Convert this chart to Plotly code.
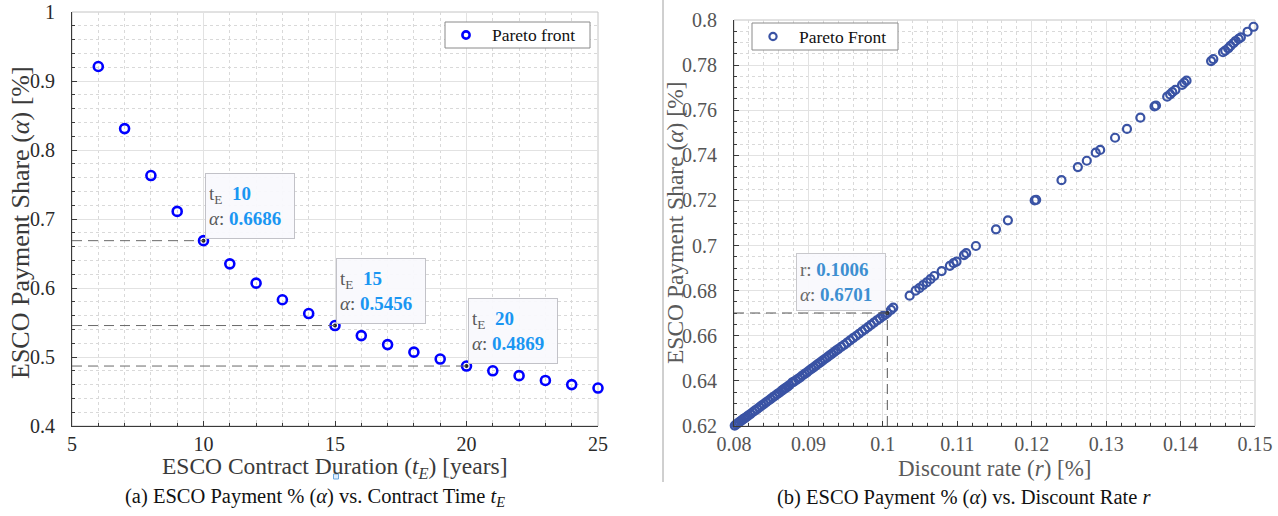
import plotly.graph_objects as go

# ---------------- data ----------------
# (a) contract duration vs payment share
t_years = [6, 7, 8, 9, 10, 11, 12, 13, 14, 15, 16, 17, 18, 19, 20, 21, 22, 23, 24, 25]
alpha_t = [0.921, 0.831, 0.763, 0.711, 0.6686, 0.635, 0.607, 0.583, 0.563, 0.5456,
           0.531, 0.518, 0.507, 0.497, 0.4869, 0.480, 0.473, 0.466, 0.460, 0.455]
hl_t = [10, 15, 20]
hl_alpha_t = [0.6686, 0.5456, 0.4869]

# (b) discount rate vs payment share
r_rate = [0.0801, 0.0803, 0.0805, 0.0807, 0.0809, 0.0811, 0.0813, 0.0815, 0.0817, 0.0819,
          0.0822, 0.0825, 0.0828, 0.0831, 0.0834, 0.0837, 0.0840, 0.0843, 0.0846, 0.0849,
          0.0852, 0.0855, 0.0858, 0.0861, 0.0864, 0.0866, 0.0868, 0.0870, 0.0872, 0.0874,
          0.0878, 0.0880, 0.0883, 0.0886, 0.0889, 0.0892, 0.0895, 0.0898, 0.0901, 0.0904,
          0.0907, 0.0910, 0.0913, 0.0916, 0.0919, 0.0922, 0.0925, 0.0928, 0.0931, 0.0934,
          0.0937, 0.0940, 0.0944, 0.0948, 0.0952, 0.0956, 0.0960, 0.0964, 0.0968, 0.0972,
          0.0976, 0.0980, 0.0984, 0.0988, 0.0992, 0.0996, 0.1000, 0.1003, 0.1006, 0.1011,
          0.1014, 0.1036, 0.1044, 0.1049, 0.1054, 0.1059, 0.1064, 0.1069, 0.1079, 0.1090,
          0.1095, 0.1099, 0.1109, 0.1112, 0.1125, 0.1152, 0.1168, 0.1204, 0.1206, 0.1240,
          0.1262, 0.1274, 0.1286, 0.1292, 0.1312, 0.1328, 0.1346, 0.1365, 0.1367, 0.1382,
          0.1386, 0.1389, 0.1393, 0.1402, 0.1405, 0.1408, 0.1441, 0.1444, 0.1457, 0.1460,
          0.1464, 0.1467, 0.1471, 0.1474, 0.1478, 0.1481, 0.1490, 0.1498]
alpha_r = [0.6202, 0.6207, 0.6212, 0.6217, 0.6222, 0.6227, 0.6232, 0.6236, 0.6241, 0.6246,
           0.6253, 0.6261, 0.6268, 0.6275, 0.6283, 0.6290, 0.6297, 0.6305, 0.6312, 0.6319,
           0.6327, 0.6334, 0.6341, 0.6348, 0.6356, 0.6361, 0.6366, 0.6370, 0.6375, 0.6380,
           0.6392, 0.6396, 0.6402, 0.6409, 0.6416, 0.6424, 0.6431, 0.6438, 0.6446, 0.6453,
           0.6460, 0.6468, 0.6475, 0.6482, 0.6490, 0.6497, 0.6504, 0.6512, 0.6519, 0.6526,
           0.6534, 0.6541, 0.6551, 0.6560, 0.6570, 0.6580, 0.6590, 0.6599, 0.6609, 0.6619,
           0.6628, 0.6638, 0.6648, 0.6658, 0.6668, 0.6677, 0.6687, 0.6694, 0.6701, 0.6715,
           0.6725, 0.6778, 0.6800, 0.6811, 0.6825, 0.6837, 0.6851, 0.6865, 0.6887, 0.6910,
           0.6922, 0.6929, 0.6958, 0.6966, 0.6998, 0.7072, 0.7112, 0.7200, 0.7203, 0.7290,
           0.7348, 0.7376, 0.7412, 0.7424, 0.7478, 0.7517, 0.7567, 0.7617, 0.7621, 0.7660,
           0.7670, 0.7680, 0.7690, 0.7712, 0.7722, 0.7731, 0.7818, 0.7827, 0.7857, 0.7864,
           0.7874, 0.7885, 0.7897, 0.7907, 0.7916, 0.7923, 0.7948, 0.7970]
hl_r = [0.1006]
hl_alpha_r = [0.6701]

x1_ticks = [5, 10, 15, 20, 25]
y1_ticks = [0.4, 0.5, 0.6, 0.7, 0.8, 0.9, 1.0]
x2_ticks = [0.08, 0.09, 0.10, 0.11, 0.12, 0.13, 0.14, 0.15]
y2_ticks = [0.62, 0.64, 0.66, 0.68, 0.70, 0.72, 0.74, 0.76, 0.78, 0.80]

legend_a = "Pareto front"
legend_b = "Pareto Front"

# ---------------- styles ----------------
W, H = 1278, 516
SERIF = "Liberation Serif"
BLUE = "#0000ff"
NAVY = "#3a53a4"
TIP_BLUE_A = "#1a96f2"
TIP_BLUE_B = "#3d8fd1"


def px(x):
    return x / W


def py(y):
    return 1 - y / H


fig = go.Figure()

fig.add_trace(go.Scatter(
    x=t_years, y=alpha_t, mode="markers", name=legend_a, showlegend=False,
    marker=dict(symbol="circle-open", size=9, color=BLUE, line=dict(width=2.6, color=BLUE)),
    cliponaxis=False, xaxis="x", yaxis="y", hoverinfo="x+y"))
fig.add_trace(go.Scatter(
    x=hl_t, y=hl_alpha_t, mode="markers", showlegend=False,
    marker=dict(symbol="circle", size=4, color="#222"), xaxis="x", yaxis="y",
    cliponaxis=False, hoverinfo="skip"))

fig.add_trace(go.Scatter(
    x=r_rate, y=alpha_r, mode="markers", name=legend_b, showlegend=False,
    marker=dict(symbol="circle-open", size=8, color=NAVY, line=dict(width=2.2, color=NAVY)),
    cliponaxis=False, xaxis="x2", yaxis="y2", hoverinfo="x+y"))
fig.add_trace(go.Scatter(
    x=hl_r, y=hl_alpha_r, mode="markers", showlegend=False,
    marker=dict(symbol="circle", size=4, color="#333"), xaxis="x2", yaxis="y2",
    cliponaxis=False, hoverinfo="skip"))

shapes = []
annotations = []

# dashed guide lines (a)
for t, a in zip(hl_t, hl_alpha_t):
    shapes.append(dict(type="line", xref="x", yref="y", x0=x1_ticks[0], x1=t, y0=a, y1=a,
                       line=dict(color="#6a6a6a", width=1, dash="10px,6px"), layer="above"))
# dashed guide lines (b)
for r, a in zip(hl_r, hl_alpha_r):
    shapes.append(dict(type="line", xref="x2", yref="y2", x0=x2_ticks[0], x1=r, y0=a, y1=a,
                       line=dict(color="#555", width=1, dash="10px,6px"), layer="above"))
    shapes.append(dict(type="line", xref="x2", yref="y2", x0=r, x1=r, y0=y2_ticks[0], y1=a,
                       line=dict(color="#555", width=1, dash="10px,6px"), layer="above"))

# light box on top/right of each axes
for xr, yr in (("x domain", "y domain"), ("x2 domain", "y2 domain")):
    shapes.append(dict(type="rect", xref=xr, yref=yr, x0=0, x1=1, y0=0, y1=1,
                       line=dict(color="#c4c4c4", width=1), layer="below"))

# separator line between panels
shapes.append(dict(type="line", xref="paper", yref="paper", x0=px(663), x1=px(663),
                   y0=py(0), y1=py(482), line=dict(color="#a0a0a0", width=1)))
# small selection square artifact under xlabel
shapes.append(dict(type="rect", xref="paper", yref="paper", x0=px(333.5), x1=px(338.5),
                   y0=py(479), y1=py(474), line=dict(color="#6aa8e0", width=1),
                   fillcolor="rgba(190,220,250,0.5)"))

# legend boxes (drawn as boxed keys, like MATLAB legends)
for (bx0, by0, bx1, by1), col, lw, label in (
        ((445, 22, 590, 48), BLUE, 2.6, legend_a),
        ((752, 23, 898, 50), NAVY, 2.2, legend_b)):
    shapes.append(dict(type="rect", xref="paper", yref="paper", x0=px(bx0), x1=px(bx1),
                       y0=py(by1), y1=py(by0), line=dict(color="#8a8a8a", width=1),
                       fillcolor="white", layer="above"))
    cy = (by0 + by1) / 2
    shapes.append(dict(type="circle", xref="paper", yref="paper", xsizemode="pixel",
                       ysizemode="pixel", xanchor=px(bx0 + 21), yanchor=py(cy),
                       x0=-3.6, x1=3.6, y0=-3.6, y1=3.6,
                       line=dict(color=col, width=lw), layer="above"))
    annotations.append(dict(text=label, xref="paper", yref="paper", x=px(bx0 + 45),
                            y=py(cy), xanchor="left", yanchor="middle", showarrow=False,
                            font=dict(family=SERIF, size=17.5, color="#111")))

# data tips (a)
for t, a in zip(hl_t, hl_alpha_t):
    txt = (f"t<sub>E</sub>  <b><span style='color:{TIP_BLUE_A}'>{t}</span></b><br>"
           f"<i>α</i>: <b><span style='color:{TIP_BLUE_A}'>{a:.4f}</span></b>")
    annotations.append(dict(x=t, y=a, xref="x", yref="y", text=txt, showarrow=False,
                            xanchor="left", yanchor="bottom", xshift=1, yshift=2,
                            align="left", width=82, height=58, borderpad=3,
                            bgcolor="rgba(249,249,253,0.95)", bordercolor="#c2c2c8",
                            borderwidth=1, font=dict(family=SERIF, size=19, color="#5a5a5a")))
# data tip (b)
for r, a in zip(hl_r, hl_alpha_r):
    txt = (f"r: <b><span style='color:{TIP_BLUE_B}'>{r:.4f}</span></b><br>"
           f"<i>α</i>: <b><span style='color:{TIP_BLUE_B}'>{a:.4f}</span></b>")
    annotations.append(dict(x=r, y=a, xref="x2", yref="y2", text=txt, showarrow=False,
                            xanchor="right", yanchor="bottom", xshift=-1, yshift=2,
                            align="left", width=82, height=50, borderpad=3,
                            bgcolor="rgba(249,249,253,0.95)", bordercolor="#c8c8cc",
                            borderwidth=1, font=dict(family=SERIF, size=19, color="#6a6a6a")))

# axis titles and captions
annotations += [
    dict(text="ESCO Payment Share (<i>α</i>) [%]", xref="paper", yref="paper",
         x=px(20), y=py(223), textangle=-90, showarrow=False, xanchor="center",
         yanchor="middle", font=dict(family=SERIF, size=26, color="#3a3a3a")),
    dict(text="ESCO Contract Duration (<i>t</i><sub><i>E</i></sub>) [years]", xref="x domain",
         yref="paper", x=0.5, y=py(468), showarrow=False, xanchor="center", yanchor="middle",
         font=dict(family=SERIF, size=23.5, color="#3a3a3a")),
    dict(text="(a) ESCO Payment % (<i>α</i>) vs. Contract Time <i>t</i><sub><i>E</i></sub>",
         xref="paper", yref="paper", x=px(315), y=py(497), showarrow=False,
         xanchor="center", yanchor="middle", font=dict(family=SERIF, size=20.5, color="#111")),
    dict(text="ESCO Payment Share (<i>α</i>) [%]", xref="paper", yref="y2 domain",
         x=px(675), y=0.5, textangle=-90, showarrow=False, xanchor="center", yanchor="middle",
         font=dict(family=SERIF, size=23.5, color="#5a5a5a")),
    dict(text="Discount rate (<i>r</i>) [%]", xref="x2 domain", yref="paper", x=0.5,
         y=py(468), showarrow=False, xanchor="center", yanchor="middle",
         font=dict(family=SERIF, size=23, color="#5a5a5a")),
    dict(text="(b) ESCO Payment % (<i>α</i>) vs. Discount Rate <i>r</i>",
         xref="paper", yref="paper", x=px(964), y=py(497), showarrow=False,
         xanchor="center", yanchor="middle", font=dict(family=SERIF, size=20.5, color="#111")),
]


def axis(domain, rng, ticks, dtick_minor, anchor, label_color, standoff):
    return dict(
        domain=domain, range=rng, tickmode="array", tickvals=ticks, anchor=anchor,
        automargin=False,
        showline=True, linecolor="#3a3a3a", linewidth=1, mirror=False,
        ticks="inside", ticklen=5, tickcolor="#3a3a3a", ticklabelstandoff=standoff,
        tickfont=dict(family=SERIF, size=20, color=label_color),
        showgrid=True, gridcolor="#e2e2e2", gridwidth=1, zeroline=False,
        minor=dict(dtick=dtick_minor, showgrid=True, gridcolor="#d9d9d9", griddash="dot",
                   gridwidth=1, ticks="inside", ticklen=3, tickcolor="#3a3a3a"),
        fixedrange=True,
    )


fig.update_layout(
    width=W, height=H, margin=dict(l=0, r=0, t=0, b=0, autoexpand=False),
    paper_bgcolor="white", plot_bgcolor="white",
    xaxis=axis([px(72), px(598)], [5, 25], x1_ticks, 1, "y", "#2a2a2a", 0),
    yaxis=axis([py(426), py(12)], [0.4, 1.0], y1_ticks, 0.02, "x", "#2a2a2a", 12),
    xaxis2=axis([px(734), px(1255)], [0.08, 0.15], x2_ticks, 0.002, "y2", "#555", 0),
    yaxis2=axis([py(426), py(20)], [0.62, 0.80], y2_ticks, 0.005, "x2", "#555", 12),
    shapes=shapes, annotations=annotations, showlegend=False,
)

fig.write_html("out.html", config={"displayModeBar": False},
               post_script="document.body.style.margin='0px';")
